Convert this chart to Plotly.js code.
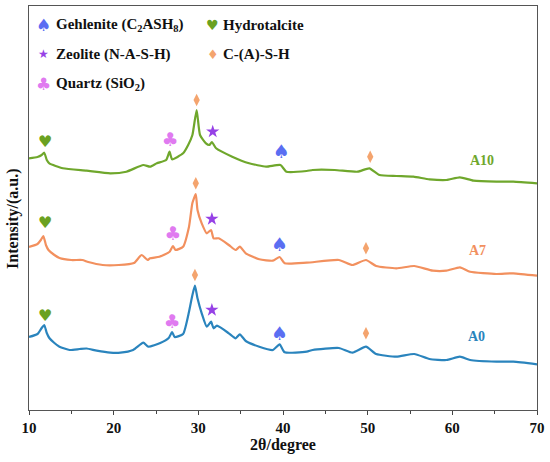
<!DOCTYPE html>
<html>
<head>
<meta charset="utf-8">
<script src="https://cdn.plot.ly/plotly-3.0.1.min.js"></script>
<style>html,body{margin:0;padding:0;background:#fff;}#chart{width:550px;height:462px;}</style>
</head>
<body>
<div id="chart"></div>
<script>
// ---- data (2θ in degrees, intensity in arbitrary offset units) ----
var a0X = [10.0,11.0,11.5,11.8,12.1,12.4,13.0,13.6,14.8,16.0,16.8,18.0,19.6,20.8,22.3,23.5,24.1,25.5,26.5,26.9,27.2,28.2,28.9,29.3,29.6,29.9,30.4,31.0,31.5,31.8,32.2,33.6,34.4,34.9,35.6,37.2,38.8,39.6,40.2,42.8,43.5,46.6,48.2,49.8,51.0,53.4,55.5,57.3,59.3,60.9,62.1,65.2,67.2,70.0];
var a0Y = [73,76,82,85,77,72,67,63.3,60,61,61.5,59.3,57.3,57.3,60,67.3,63.3,67,72,78,73,76,98.3,115,124.3,111.7,96.7,83.3,88.3,81.7,84.3,76.7,71.7,75.7,69,63.3,60,65.7,57.7,58.3,60,62,57.3,63.3,56,53.3,56,51,50,53.3,50,48.3,48.3,45.7];

var a7X = [10.0,11.0,11.4,11.7,12.0,12.3,13.0,13.6,15.0,16.3,17.0,18.7,20.6,22.4,23.3,24.0,24.3,25.4,26.6,27.0,27.3,28.2,28.9,29.3,29.7,29.9,30.4,31.0,31.5,31.8,32.4,33.6,34.4,34.9,35.6,37.2,38.8,39.6,40.2,42.8,46.6,48.2,49.8,51.0,53.4,55.5,57.7,59.3,60.9,62.1,65.2,67.2,70.0];
var a7Y = [163,166,170,174,165,160,155,152,150,150,148,145,145,147,155,150,151.7,153.3,158.3,164,160,163.3,183.3,207,216,200,186.7,176.7,180,171.7,171.7,165,160,163.3,156.7,150.7,149.3,153,146.7,147.3,150,145,150,144,141.7,144,139.3,139.3,142.7,138.3,136,136.7,134.3];

var a10X = [10.0,11.0,11.5,11.8,12.1,12.4,14.0,16.8,19.6,21.5,23.5,24.3,25.1,26.2,26.6,26.9,28.2,28.8,29.3,29.8,30.2,30.9,31.3,31.6,32.1,34.0,36.0,38.0,39.7,40.4,42.8,43.5,46.1,48.8,50.2,51.4,53.4,55.4,57.3,59.3,60.9,62.5,65.2,67.2,70.0];
var a10Y = [251.7,253,255,257.3,250,246.7,241.7,239.3,236.7,238.3,245,243.3,246.7,250,258.3,250.7,256.7,265,275,300,275,266.7,265,268,261.7,253.3,246.7,243.3,245,238.3,239,240,240,238.3,241.7,235,234,233.3,230.7,230,232.7,229.3,228.3,228.3,226.7];

// phase markers
var heartX = [11.9, 11.9, 11.9];          var heartY = [266.7, 185.7, 93.3];
var clubX = [26.65, 26.97, 26.9];         var clubY = [268.3, 174.3, 86.7];
var diamondX = [29.8, 29.7, 29.6, 50.3, 49.8, 49.8];
var diamondY = [310, 226.7, 135, 253.3, 161.7, 76.7];
var starX = [31.7, 31.6, 31.6];           var starY = [278.3, 191, 100];
var spadeX = [39.8, 39.6, 39.6];          var spadeY = [256.7, 163.3, 75];

// sample labels
var sampleNames = ['A10', 'A7', 'A0'];
var labelX = [63.5, 63.0, 62.9];
var labelY = [250, 160, 73.3];

var xTickVals = [10, 20, 30, 40, 50, 60, 70];

var legendGlyphs = ['\u2660', '\u2665', '\u2605', '\u2666', '\u2663'];
var legendNames = ['Gehlenite (C<sub>2</sub>ASH<sub>8</sub>)', 'Hydrotalcite', 'Zeolite (N-A-S-H)', 'C-(A)-S-H', 'Quartz (SiO<sub>2</sub>)'];

// ---- styling ----
var serif = 'Liberation Serif';
var colBlue = '#2a84bd', colOrange = '#f2905e', colGreen = '#6fa72c';
var cSpade = '#5a6ef2', cHeart = '#6aa121', cStar = '#9641e6', cDiamond = '#f4a46e', cClub = '#e07af0';
var lineColors = [colGreen, colOrange, colBlue];

var traces = [
  {x: a0X, y: a0Y, mode: 'lines', line: {color: colBlue, width: 2.2, shape: 'spline', smoothing: 0.5}, hoverinfo: 'skip'},
  {x: a7X, y: a7Y, mode: 'lines', line: {color: colOrange, width: 2.2, shape: 'spline', smoothing: 0.5}, hoverinfo: 'skip'},
  {x: a10X, y: a10Y, mode: 'lines', line: {color: colGreen, width: 2.2, shape: 'spline', smoothing: 0.5}, hoverinfo: 'skip'},
  {x: heartX, y: heartY, mode: 'text', text: heartX.map(function(){return '\u2665';}), textposition: 'middle center', textfont: {family: 'DejaVu Sans', size: 16, color: cHeart}},
  {x: clubX, y: clubY, mode: 'text', text: clubX.map(function(){return '\u2663';}), textposition: 'middle center', textfont: {family: 'DejaVu Sans', size: 19, color: cClub}},
  {x: spadeX, y: spadeY, mode: 'text', text: spadeX.map(function(){return '\u2660';}), textposition: 'middle center', textfont: {family: 'DejaVu Sans', size: 19, color: cSpade}},
  {x: diamondX, y: diamondY, mode: 'markers', marker: {symbol: 'diamond-tall', size: 9, color: cDiamond}},
  {x: starX, y: starY, mode: 'markers', marker: {symbol: 'star', size: 10, color: cStar}}
];

var annotations = [];
for (var i = 0; i < sampleNames.length; i++) {
  annotations.push({x: labelX[i], y: labelY[i], xref: 'x', yref: 'y', text: '<b>' + sampleNames[i] + '</b>', showarrow: false,
    font: {family: serif, size: 14, color: lineColors[i]}});
}
var glyphColors = [cSpade, cHeart, cStar, cDiamond, cClub];
var glyphSizes = [17, 14, 12, 13, 17];
var legGX = [0.0295, 0.362, 0.0295, 0.362, 0.0295];
var legTX = [0.049, 0.378, 0.049, 0.378, 0.049];
var legY = [0.953, 0.953, 0.881, 0.881, 0.807];
for (var j = 0; j < legendNames.length; j++) {
  annotations.push({x: legGX[j], y: legY[j], xref: 'paper', yref: 'paper', text: legendGlyphs[j], showarrow: false,
    xanchor: 'center', yanchor: 'middle', font: {family: 'DejaVu Sans', size: glyphSizes[j], color: glyphColors[j]}});
  annotations.push({x: legTX[j], y: legY[j], xref: 'paper', yref: 'paper', text: '<b>' + legendNames[j] + '</b>', showarrow: false,
    xanchor: 'left', yanchor: 'middle', font: {family: serif, size: 15, color: '#111'}});
}
// y-axis title (placed slightly below centre as in the reference)
annotations.push({x: -0.0315, y: 0.473, xref: 'paper', yref: 'paper', text: '<b>Intensity/(a.u.)</b>', textangle: -90,
  showarrow: false, xanchor: 'center', yanchor: 'middle', font: {family: serif, size: 16, color: '#111'}});

var layout = {
  width: 550, height: 462,
  margin: {l: 29, r: 13, t: 6, b: 52},
  paper_bgcolor: '#fff', plot_bgcolor: '#fff',
  showlegend: false,
  font: {family: serif},
  xaxis: {
    range: [10, 70], tickvals: xTickVals, ticks: 'outside', ticklen: 4, tickwidth: 1, tickcolor: '#444',
    minor: {dtick: 5, ticks: 'outside', ticklen: 3, tickcolor: '#444', showgrid: false},
    showline: true, linecolor: '#555', linewidth: 1.2, mirror: true, showgrid: false, zeroline: false,
    tickfont: {family: serif, size: 15, color: '#111', weight: 'bold'},
    title: {text: '<b>2\u03b8/degree</b>', font: {family: serif, size: 16, color: '#111'}, standoff: 3}
  },
  yaxis: {
    range: [0, 404], showticklabels: false, ticks: '', showline: true, linecolor: '#555', linewidth: 1.2, mirror: true,
    showgrid: false, zeroline: false
  },
  annotations: annotations
};

Plotly.newPlot('chart', traces, layout, {displayModeBar: false, staticPlot: true});
</script>
</body>
</html>
